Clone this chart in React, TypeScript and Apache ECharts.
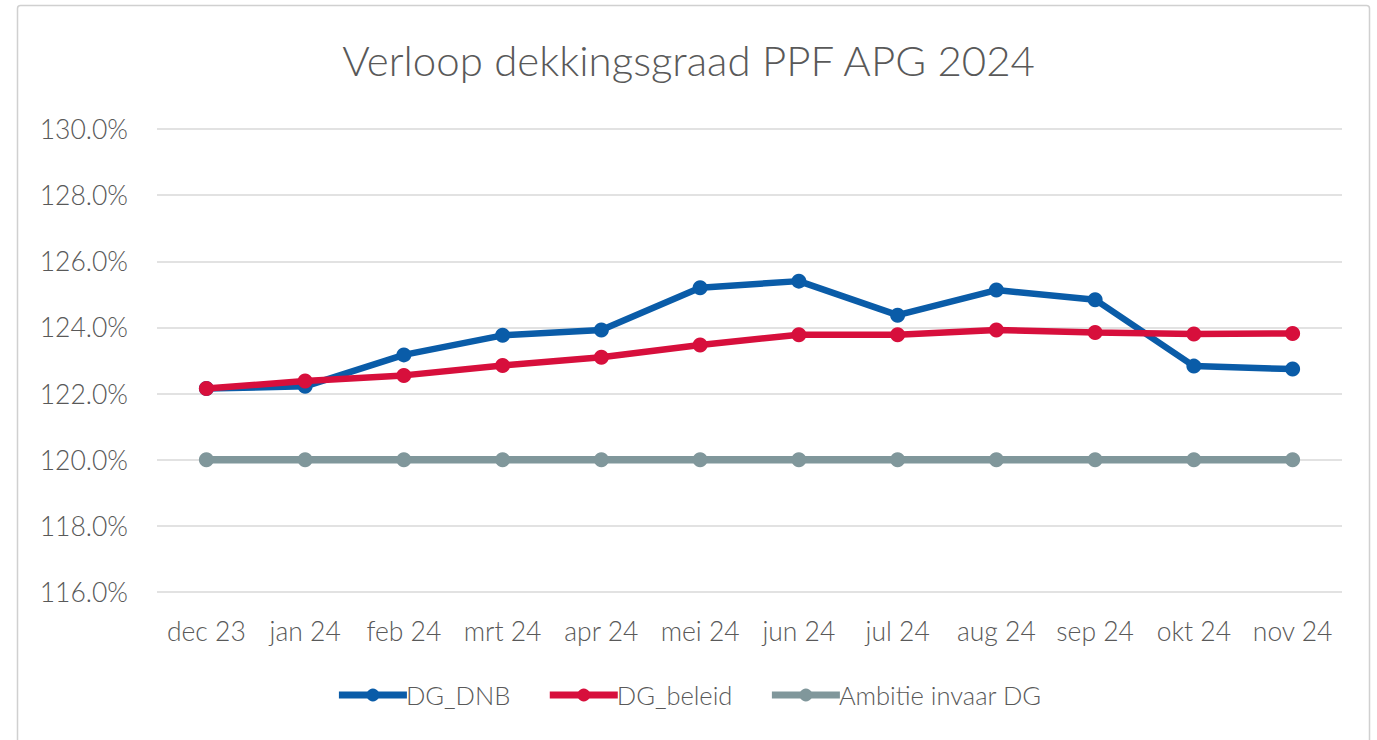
import React, { useEffect, useRef } from "react";
import * as echarts from "echarts";

const categories = ["dec 23", "jan 24", "feb 24", "mrt 24", "apr 24", "mei 24", "jun 24", "jul 24", "aug 24", "sep 24", "okt 24", "nov 24"];
const dgDnb = [122.15, 122.22, 123.17, 123.76, 123.92, 125.2, 125.4, 124.37, 125.13, 124.84, 122.83, 122.74];
const dgBeleid = [122.15, 122.38, 122.55, 122.85, 123.1, 123.47, 123.78, 123.78, 123.92, 123.85, 123.8, 123.82];
const ambitie = [120, 120, 120, 120, 120, 120, 120, 120, 120, 120, 120, 120];
const yTicks = { min: 116, max: 130, interval: 2 };

const FONT = "Lato, 'Open Sans', sans-serif";
const TEXT = "#595959";

export default function App() {
  const ref = useRef<HTMLDivElement>(null);
  useEffect(() => {
    if (!ref.current) return;
    const chart = echarts.init(ref.current, undefined, { renderer: "svg" });
    const mk = (name: string, data: number[], color: string, width: number) => ({
      name,
      type: "line",
      data,
      symbol: "circle",
      symbolSize: 15,
      lineStyle: { color, width },
      itemStyle: { color },
      z: name === "DG_DNB" ? 3 : name === "DG_beleid" ? 4 : 2,
    });
    chart.setOption({
      animation: false,
      backgroundColor: "#ffffff",
      textStyle: { fontFamily: FONT },
      title: {
        text: "Verloop dekkingsgraad PPF APG 2024",
        left: "center",
        top: 34,
        textStyle: { fontFamily: FONT, fontSize: 42, fontWeight: 300, color: TEXT },
      },
      graphic: [
        {
          type: "rect",
          shape: { x: 17.5, y: 5.5, width: 1352, height: 740, r: 3 },
          style: { fill: "none", stroke: "#d0d0d0", lineWidth: 1.5 },
          silent: true,
          z: -1,
        },
      ],
      grid: { left: 157, right: 35, top: 129, bottom: 148 },
      legend: {
        bottom: 27,
        left: "center",
        itemWidth: 68,
        itemHeight: 16,
        itemGap: 36,
        lineStyle: { width: 7 },
        textStyle: { fontFamily: FONT, fontSize: 25.5, fontWeight: 300, color: TEXT, padding: [0, 0, 0, -6] },
        data: ["DG_DNB", "DG_beleid", "Ambitie invaar DG"],
      },
      xAxis: {
        type: "category",
        data: categories,
        boundaryGap: true,
        axisLine: { show: false },
        axisTick: { show: false },
        axisLabel: { color: TEXT, fontSize: 26.5, fontWeight: 300, fontFamily: FONT, margin: 25, interval: 0 },
      },
      yAxis: {
        type: "value",
        min: yTicks.min,
        max: yTicks.max,
        interval: yTicks.interval,
        axisLine: { show: false },
        axisTick: { show: false },
        splitLine: { lineStyle: { color: "#d9d9d9", width: 1.5 } },
        axisLabel: {
          color: TEXT,
          fontSize: 26.5,
          fontWeight: 300,
          fontFamily: FONT,
          margin: 29,
          formatter: (v: number) => v.toFixed(1) + "%",
        },
      },
      series: [
        mk("DG_DNB", dgDnb, "#0a5ca8", 6.5),
        mk("DG_beleid", dgBeleid, "#d70f3c", 6.5),
        mk("Ambitie invaar DG", ambitie, "#80979b", 7.5),
      ],
    });
    return () => chart.dispose();
  }, []);
  return <div ref={ref} style={{ position: "absolute", left: 0, top: 0, width: 1377, height: 740 }} />;
}
